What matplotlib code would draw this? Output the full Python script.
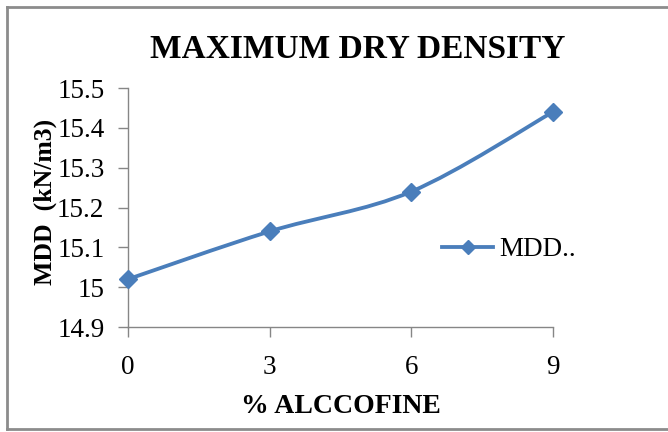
import matplotlib.pyplot as plt
from matplotlib.path import Path
from matplotlib.patches import PathPatch
from matplotlib.lines import Line2D

alccofine = [0, 3, 6, 9]
mdd = [15.02, 15.14, 15.24, 15.44]
yticks = [14.9, 15.0, 15.1, 15.2, 15.3, 15.4, 15.5]
ytick_labels = ['14.9', '15', '15.1', '15.2', '15.3', '15.4', '15.5']

blue = '#4a7ebb'
grey = '#868686'

plt.rcParams['font.family'] = ['Liberation Serif', 'DejaVu Serif']

fig = plt.figure(figsize=(6.68, 4.32), dpi=100)
ax = fig.add_axes([128/668, 1 - 327/432, 425/668, 239/432])


# excel style smoothed line (bezier through the points)
def smooth_path(xs, ys, k=1/6):
    pts = list(zip(xs, ys))
    verts = [pts[0]]
    codes = [Path.MOVETO]
    n = len(pts)
    for i in range(n - 1):
        p0 = pts[i - 1] if i > 0 else pts[i]
        p1 = pts[i]
        p2 = pts[i + 1]
        p3 = pts[i + 2] if i + 2 < n else pts[i + 1]
        c1 = (p1[0] + (p2[0] - p0[0]) * k, p1[1] + (p2[1] - p0[1]) * k)
        c2 = (p2[0] - (p3[0] - p1[0]) * k, p2[1] - (p3[1] - p1[1]) * k)
        verts += [c1, c2, p2]
        codes += [Path.CURVE4] * 3
    return Path(verts, codes)


ax.add_patch(PathPatch(smooth_path(alccofine, mdd), fill=False, edgecolor=blue,
                       lw=2.75, capstyle='round', joinstyle='round', zorder=3))
ax.plot(alccofine, mdd, linestyle='none', marker='D', markersize=9,
        color=blue, zorder=4, clip_on=False)

ax.set_xlim(0, 9)
ax.set_ylim(14.9, 15.5)
ax.set_xticks(alccofine)
ax.set_xticklabels([str(v) for v in alccofine])
ax.set_yticks(yticks)
ax.set_yticklabels(ytick_labels)

for s in ['top', 'right']:
    ax.spines[s].set_visible(False)
for s in ['left', 'bottom']:
    ax.spines[s].set_color(grey)
    ax.spines[s].set_linewidth(1)
ax.tick_params(axis='both', colors=grey, labelcolor='black', labelsize=19.5,
               length=7, width=1)
ax.tick_params(axis='x', pad=13)
ax.tick_params(axis='y', pad=10)

ax.set_xlabel('% ALCCOFINE', fontsize=20, fontweight='bold', labelpad=10)
fig.text(45/668, 1 - 202/432, 'MDD  (kN/m3)', fontsize=18.5, fontweight='bold',
         rotation=90, ha='center', va='center')

fig.text(358/668, 1 - 50/432, 'MAXIMUM DRY DENSITY', fontsize=24,
         fontweight='bold', ha='center', va='center')

handle = Line2D([], [], color=blue, lw=2.75, marker='D', markersize=7)
leg = ax.legend([handle], ['MDD..'], loc='center left',
                bbox_to_anchor=(442/668, 1 - 250/432),
                bbox_transform=fig.transFigure, frameon=False, fontsize=19.5,
                handlelength=1.9, handletextpad=0.2, borderpad=0,
                borderaxespad=0)

# chart area border
fig.add_artist(Line2D([7/668, 7/668], [1 - 7/432, 1 - 429/432],
                      transform=fig.transFigure, color='#8c8c8c', lw=2))
fig.add_artist(Line2D([7/668, 1], [1 - 7/432, 1 - 7/432],
                      transform=fig.transFigure, color='#8c8c8c', lw=2))
fig.add_artist(Line2D([7/668, 1], [1 - 429/432, 1 - 429/432],
                      transform=fig.transFigure, color='#8c8c8c', lw=2))

fig.savefig('out.png', dpi=100)
